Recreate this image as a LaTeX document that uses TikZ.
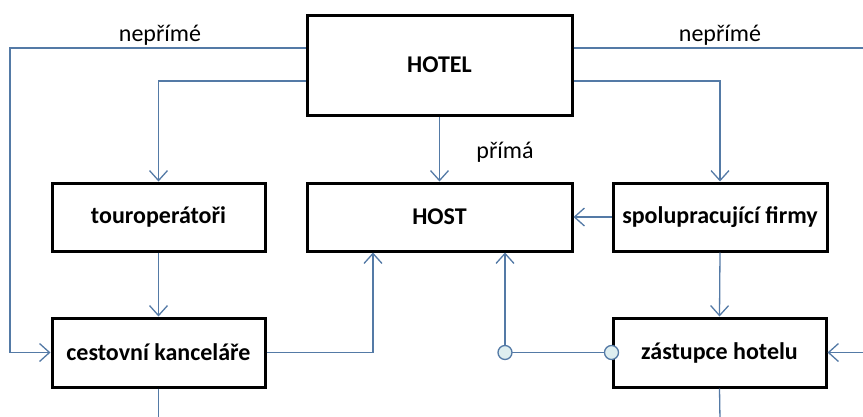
\documentclass[tikz,border=0pt]{standalone}
\usepackage{fontspec}
\setmainfont{Carlito}
\usetikzlibrary{arrows.meta}
\definecolor{conn}{RGB}{84,122,166}
\definecolor{dotfill}{RGB}{222,238,240}
\begin{document}
\begin{tikzpicture}[x=1pt,y=-1pt,
  box/.style={draw=black,line width=3pt,fill=white,inner sep=0pt,font=\fontsize{24}{28}\selectfont\bfseries},
  lbl/.style={font=\fontsize{24}{28}\selectfont,inner sep=0pt},
  link/.style={draw=conn,line width=1.3pt},
  arr/.style={link,-{Straight Barb[length=10pt,width=18pt,line width=1.3pt]}},
  dot/.style={circle,draw=conn,fill=dotfill,line width=1.3pt,minimum size=14pt,inner sep=0pt}]
\useasboundingbox (0,0) rectangle (863,416);
\clip (0,0) rectangle (863,416);
% boxes
\node[box,minimum width=265pt,minimum height=100pt] (hotel) at (439.5,65) {HOTEL};
\node[box,minimum width=265pt,minimum height=68pt] (host) at (439.5,217) {HOST};
\node[box,minimum width=213pt,minimum height=68pt] (tour) at (158.5,217) {touroperátoři};
\node[box,minimum width=214pt,minimum height=68pt] (spol) at (720,217) {spolupracující firmy};
\node[box,minimum width=213pt,minimum height=69pt] (cest) at (158.5,352.5) {cestovní kanceláře};
\node[box,minimum width=213pt,minimum height=69pt] (zast) at (719.5,352.5) {zástupce hotelu};
% labels
\node[lbl] (l1) at (160,35) {nepřímé};
\node[lbl] (l2) at (720,35) {nepřímé};
\node[lbl] (l3) at (505,152) {přímá};
% helper coordinates
\coordinate (hl1) at (hotel.west |- 0,48);
\coordinate (hl2) at (hotel.west |- 0,81);
\coordinate (hr1) at (hotel.east |- 0,48);
\coordinate (hr2) at (hotel.east |- 0,81);
\coordinate (farL) at (10,48);
\coordinate (farR) at (866,48);
\coordinate (endL) at (158.5,420);
\coordinate (endR) at (720,420);
\coordinate (d1pos) at (zast.west -| 505,0);
% connectors
\draw[arr] (hl1) -- (farL) |- (cest.west);
\draw[arr] (hl2) -| (tour.north);
\draw[arr] (hr1) -- (farR) |- (zast.east);
\draw[arr] (hr2) -| (spol.north);
\draw[arr] (hotel.south) -- (host.north);
\draw[arr] (spol.west) -- (host.east);
\draw[arr] (tour.south) -- (cest.north);
\draw[arr] (spol.south) -- (zast.north);
\draw[arr] (cest.east) -| (host.south -| 373,0);
\draw[arr] (d1pos) -- (host.south -| d1pos);
\draw[link] (d1pos) -- (zast.west);
\draw[link] (cest.south) -- (endL);
\draw[link] (zast.south) -- (endR);
\node[dot] (d1) at (d1pos) {};
\node[dot] (d2) at (zast.west) {};
\end{tikzpicture}
\end{document}
